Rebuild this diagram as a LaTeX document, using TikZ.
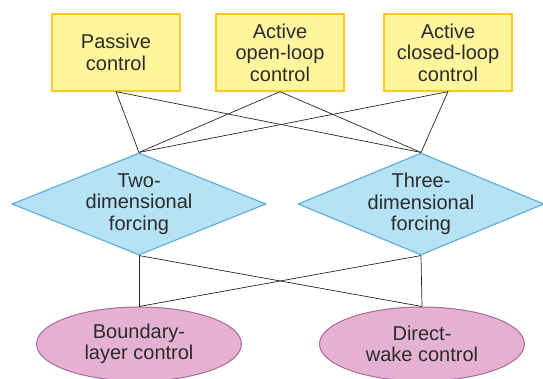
\documentclass[tikz,border=0pt]{standalone}
\usepackage{fontspec}
\setmainfont{Liberation Sans}
\usetikzlibrary{shapes.geometric}

\definecolor{boxfill}{HTML}{FFF59D}
\definecolor{boxline}{HTML}{FFC629}
\definecolor{diafill}{HTML}{B5E2F4}
\definecolor{dialine}{HTML}{5AAAE0}
\definecolor{ellfill}{HTML}{E4B1D3}
\definecolor{ellline}{HTML}{A96AA0}
\definecolor{txt}{HTML}{2B2B2B}

\tikzset{
  x=1pt, y=1pt,
  label text/.style={font=\fontsize{20}{21.5}\selectfont, text=txt, align=center, inner sep=0pt},
  methodbox/.style={draw=boxline, fill=boxfill, line width=1.3pt, rectangle,
    minimum width=128pt, minimum height=77pt, label text},
  forcing/.style={draw=dialine, fill=diafill, line width=1.1pt, diamond, inner sep=0pt},
  target/.style={draw=ellline, fill=ellfill, line width=1pt, ellipse, inner sep=0pt,
    minimum width=205pt, minimum height=74pt, label text},
  link/.style={draw=black!85, line width=0.7pt}
}

\begin{document}
\begin{tikzpicture}
\useasboundingbox (0,0) rectangle (543,-379);
\begin{scope}
\clip (0,0) rectangle (543,-379);

% control strategies
\node[methodbox] (passive) at (116,-52.5) {Passive\\control};
\node[methodbox] (open)    at (280,-52.5) {Active\\open-loop\\control};
\node[methodbox] (closed)  at (448,-52.5) {Active\\closed-loop\\control};

% forcing types
\node[forcing, minimum width=254pt, minimum height=102pt] (two)   at (139,-204) {};
\node[forcing, minimum width=246pt, minimum height=102pt] (three) at (421,-204) {};
\node[label text] (twot)   at (two.center)   {Two-\\dimensional\\forcing};
\node[label text] (threet) at (three.center) {Three-\\dimensional\\forcing};

% application targets
\node[target] (bl)   at (139,-344) {Boundary-\\layer control};
\node[target] (wake) at (422,-344) {Direct-\\wake control};

% connections
\foreach \s in {passive, open, closed}{
  \draw[link] (\s.south) -- (two.north);
  \draw[link] (\s.south) -- (three.north);
}
\foreach \s in {two, three}{
  \draw[link] (\s.south) -- (bl.north);
  \draw[link] (\s.south) -- (wake.north);
}
\end{scope}
\end{tikzpicture}
\end{document}
